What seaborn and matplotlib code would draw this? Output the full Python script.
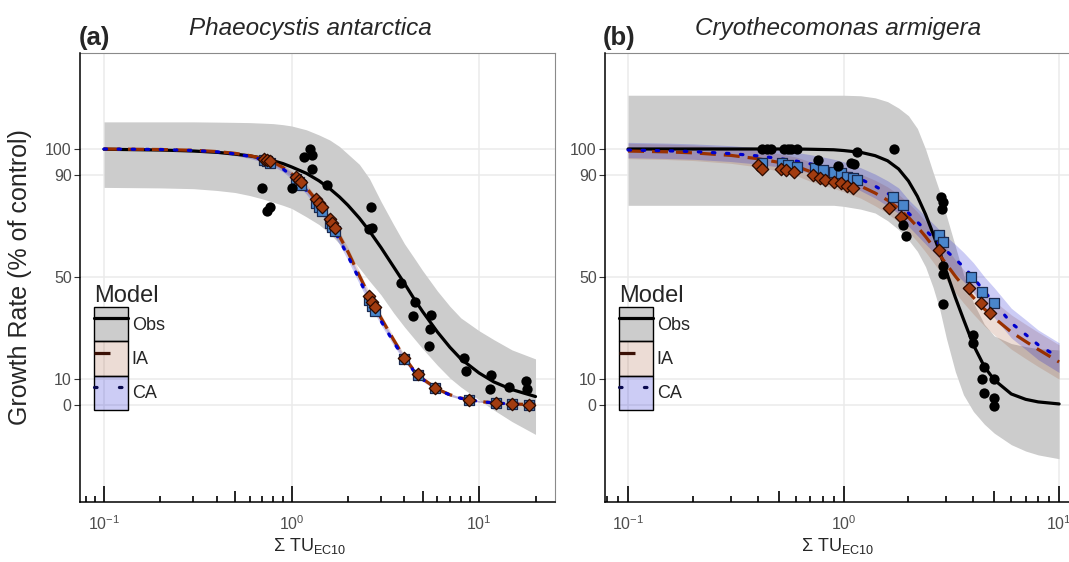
import numpy as np
import pandas as pd
import matplotlib
matplotlib.use("Agg")
import matplotlib.pyplot as plt
import seaborn as sns
from matplotlib.patches import Patch
from matplotlib.lines import Line2D
from matplotlib.colors import to_rgba

# ---------------- data ----------------
# Panel (a) Phaeocystis antarctica
a_curve_x = [0.1, 0.2, 0.3, 0.4, 0.5, 0.6, 0.7, 0.8, 0.9, 1.0, 1.2, 1.4, 1.6, 1.8, 2.0,
             2.3, 2.6, 3.0, 3.5, 4.0, 4.5, 5.0, 6.0, 7.0, 8.0, 10, 12, 15, 20]
a_obs_fit = [99.9, 99.6, 99.2, 98.7, 98.0, 97.3, 96.4, 95.4, 94.3, 93.0, 90.5, 87.6, 84.5, 81.3, 78.0,
             73.0, 68.0, 61.5, 54.0, 47.5, 41.5, 36.5, 28.5, 22.5, 18.0, 12.5, 9.0, 6.0, 3.3]
a_obs_hi = [110.6, 110.6, 110.6, 110.5, 110.4, 110.3, 110.1, 109.9, 109.5, 109.0, 107.5, 105.5, 103.5, 101.0, 98.0,
            94.0, 88.5, 79.5, 70.5, 63.0, 57.5, 52.5, 44.5, 38.5, 34.0, 29.0, 25.5, 21.5, 18.0]
a_obs_lo = [85.0, 84.8, 84.5, 83.8, 83.0, 81.8, 80.5, 79.2, 78.0, 76.8, 73.5, 70.5, 67.0, 63.0, 59.0,
            53.5, 48.5, 43.0, 36.0, 30.5, 26.0, 22.0, 15.5, 10.5, 7.0, 2.0, -2.0, -6.5, -11.5]
a_ia_fit = [100, 99.8, 99.5, 99.0, 98.3, 97.4, 96.3, 94.8, 92.8, 90.3, 84.8, 78.8, 72.5, 66.0, 59.8,
            50.5, 42.5, 34.0, 25.5, 18.5, 13.5, 10.2, 6.2, 4.0, 2.7, 1.4, 0.8, 0.4, 0.1]
a_ia_hw = [0.3, 0.4, 0.5, 0.6, 0.7, 0.8, 0.9, 1.0, 1.1, 1.2, 1.4, 1.5, 1.6, 1.7, 1.7,
           1.7, 1.6, 1.5, 1.3, 1.1, 0.9, 0.8, 0.6, 0.5, 0.4, 0.3, 0.2, 0.2, 0.1]
a_ca_fit = [100, 99.8, 99.4, 98.9, 98.1, 97.1, 95.8, 94.2, 92.2, 89.6, 83.8, 77.5, 71.0, 64.5, 58.2,
            49.0, 41.0, 32.8, 24.6, 18.0, 13.2, 10.0, 6.1, 3.9, 2.6, 1.4, 0.8, 0.4, 0.1]
a_ca_hw = [0.3, 0.4, 0.5, 0.6, 0.7, 0.8, 0.9, 1.0, 1.1, 1.2, 1.4, 1.5, 1.6, 1.7, 1.7,
           1.7, 1.6, 1.5, 1.3, 1.1, 0.9, 0.8, 0.6, 0.5, 0.4, 0.3, 0.2, 0.2, 0.1]

a_obs_pts_x = [0.70, 0.74, 0.77, 1.0, 1.17, 1.25, 1.28, 1.29, 1.55, 2.66, 2.60, 2.70, 3.85,
               4.56, 4.45, 5.56, 5.49, 5.42, 8.3, 8.5, 11.6, 11.5, 14.4, 17.8, 18.0]
a_obs_pts_y = [84.8, 75.8, 77.3, 84.8, 96.9, 100.0, 97.7, 92.2, 86.0, 77.3, 68.8, 69.1, 47.7,
               40.2, 34.8, 35.2, 29.7, 23.0, 18.4, 13.3, 11.7, 6.2, 7.0, 9.4, 6.2]
a_mix_x = [0.71, 0.74, 0.77, 1.05, 1.09, 1.13, 1.35, 1.40, 1.45, 1.60, 1.65, 1.70,
           2.60, 2.70, 2.80, 4.0, 4.7, 5.8, 8.8, 12.3, 15.0, 18.5]
a_ia_pts_y = [96.2, 95.7, 95.2, 89.0, 88.0, 87.0, 80.3, 78.8, 77.2, 72.5, 70.9, 69.3,
              42.5, 40.3, 38.2, 18.5, 12.2, 6.8, 2.0, 0.75, 0.4, 0.15]
a_ca_pts_y = [95.7, 95.2, 94.7, 88.2, 87.2, 86.0, 79.0, 77.5, 75.9, 71.0, 69.4, 67.8,
              41.0, 38.8, 36.8, 18.0, 11.9, 6.7, 1.9, 0.75, 0.4, 0.15]

# Panel (b) Cryothecomonas armigera
b_curve_x = [0.1, 0.15, 0.2, 0.3, 0.4, 0.5, 0.6, 0.7, 0.8, 0.9, 1.0, 1.2, 1.4, 1.6, 1.8,
             2.0, 2.2, 2.4, 2.6, 2.8, 3.0, 3.3, 3.6, 4.0, 4.5, 5.0, 6.0, 7.0, 8.0, 10]
b_obs_fit = [100, 100, 100, 100, 100, 100, 100, 99.9, 99.8, 99.7, 99.4, 98.7, 97.4, 95.4, 92.2,
             87.5, 81.5, 74.5, 67.0, 59.5, 52.0, 42.0, 33.5, 23.5, 15.0, 9.8, 4.3, 2.2, 1.2, 0.4]
b_obs_hi = [121, 121, 121, 121, 121, 121, 121, 121, 121, 121, 121, 120.8, 120.0, 118.5, 116.0,
            113.0, 108.0, 100.0, 91.0, 83.0, 74.0, 62.0, 51.0, 40.0, 31.5, 27.0, 24.0, 22.8, 22.0, 21.5]
b_obs_lo = [78, 78, 78, 78, 78, 78, 78, 78, 78, 78, 77.6, 76.5, 75.0, 72.0, 68.5,
            64.5, 60.0, 54.0, 46.0, 37.0, 26.0, 13.0, 4.0, -2.5, -7.5, -11.0, -15.5, -18.0, -19.5, -21.0]
b_ia_fit = [99.2, 98.9, 98.5, 97.5, 96.2, 94.8, 93.3, 91.2, 89.9, 88.8, 87.7, 85.5, 82.8, 80.0, 76.8,
            73.3, 69.6, 65.8, 62.0, 58.4, 55.0, 50.3, 46.4, 42.0, 37.5, 34.0, 28.5, 24.8, 21.7, 16.8]
b_ia_hw = [3.0, 3.0, 3.0, 3.1, 3.2, 3.4, 3.6, 3.8, 4.0, 4.2, 4.4, 4.7, 5.0, 5.2, 5.4,
           5.6, 5.8, 6.0, 6.1, 6.2, 6.3, 6.4, 6.5, 6.5, 6.6, 6.6, 6.7, 6.7, 6.7, 6.7]
b_ca_fit = [99.6, 99.3, 99.0, 98.2, 97.3, 96.3, 95.3, 94.2, 93.1, 92.0, 90.8, 88.2, 85.5, 82.7, 79.8,
            75.0, 71.5, 68.3, 65.4, 62.6, 60.2, 57.0, 54.0, 49.8, 44.3, 40.0, 32.0, 27.5, 23.5, 18.5]
b_ca_hw = [3.0, 3.0, 3.0, 3.1, 3.2, 3.3, 3.4, 3.6, 3.8, 4.0, 4.2, 4.5, 4.7, 4.9, 5.0,
           5.2, 5.3, 5.4, 5.5, 5.6, 5.6, 5.7, 5.7, 5.8, 5.8, 5.8, 5.8, 5.8, 5.8, 5.8]

b_obs_pts_x = [0.42, 0.44, 0.46, 0.53, 0.55, 0.57, 0.61, 0.76, 0.94, 1.08, 1.12, 1.16, 1.71,
               1.88, 1.94, 2.83, 2.90, 2.85, 2.90, 2.90, 2.90, 4.0, 3.98, 4.5, 4.4, 4.97, 4.5, 4.97, 4.97]
b_obs_pts_y = [100, 100, 100, 100, 100, 100, 100, 95.7, 93.4, 94.5, 94.0, 98.8, 100,
               70.3, 66.0, 81.3, 79.3, 76.6, 54.3, 51.0, 39.3, 27.3, 24.2, 15.0, 10.0, 10.0, 4.7, 2.7, -0.4]
b_ia_pts_x = [0.40, 0.42, 0.51, 0.54, 0.59, 0.72, 0.78, 0.82, 0.90, 0.97, 1.04, 1.11,
              1.62, 1.84, 2.77, 3.80, 4.34, 4.80]
b_ia_pts_y = [93.7, 92.2, 92.0, 91.8, 91.0, 89.8, 88.7, 88.0, 87.0, 86.7, 85.5, 84.8,
              77.0, 73.4, 60.5, 45.7, 40.0, 36.0]
b_ca_pts_x = [0.42, 0.52, 0.55, 0.61, 0.74, 0.80, 0.90, 0.97, 1.04, 1.11, 1.16,
              1.69, 1.88, 2.77, 2.90, 3.90, 4.40, 4.97]
b_ca_pts_y = [94.5, 94.5, 93.7, 93.0, 92.6, 91.8, 91.0, 90.6, 89.0, 88.7, 88.0,
              81.3, 78.0, 66.4, 63.7, 50.0, 44.0, 39.8]

y_ticks = [0, 10, 50, 90, 100]
x_ticks = [0.1, 1, 10]
x_ticklabels = [r"$\mathregular{10^{-1}}$", r"$\mathregular{10^{0}}$", r"$\mathregular{10^{1}}$"]
model_labels = ["Obs", "IA", "CA"]
titles = ["Phaeocystis antarctica", "Cryothecomonas armigera"]
tags = ["(a)", "(b)"]

# ---------------- style ----------------
sns.set_theme(style="white")
plt.rcParams['font.family'] = ['Liberation Sans', 'DejaVu Sans']
plt.rcParams['mathtext.fontset'] = 'custom'
plt.rcParams['mathtext.rm'] = 'Liberation Sans'
plt.rcParams['mathtext.it'] = 'Liberation Sans:italic'
plt.rcParams['mathtext.bf'] = 'Liberation Sans:bold'

OBS_COL = "black"
OBS_FILL = "#CCCCCC"
IA_LINE = "#993000"
IA_FILL = "#A0522D"
IA_PT = "#A23C10"
CA_LINE = "#0000CD"
CA_FILL = "#0000CD"
CA_PT = "#4A86CC"

W, H = 1069, 562
fig = plt.figure(figsize=(W / 100, H / 100), dpi=100)
ax_a = fig.add_axes([80 / W, (H - 502) / H, 475 / W, 449 / H])
ax_b = fig.add_axes([605 / W, (H - 502) / H, 475 / W, 449 / H])


def draw_panel(ax, cx, obs_fit, obs_lo, obs_hi, ia_fit, ia_hw, ca_fit, ca_hw,
               ox, oy, iax, iay, cax, cay, xlim):
    cx = np.asarray(cx, float)
    ia_fit = np.asarray(ia_fit); ia_hw = np.asarray(ia_hw)
    ca_fit = np.asarray(ca_fit); ca_hw = np.asarray(ca_hw)
    ax.fill_between(cx, obs_lo, obs_hi, color=OBS_FILL, lw=0, zorder=1)
    ax.fill_between(cx, ia_fit - ia_hw, ia_fit + ia_hw, color=IA_FILL, alpha=0.2, lw=0, zorder=1.1)
    ax.fill_between(cx, ca_fit - ca_hw, ca_fit + ca_hw, color=CA_FILL, alpha=0.2, lw=0, zorder=1.2)

    sns.lineplot(x=cx, y=obs_fit, ax=ax, color=OBS_COL, lw=2.3, estimator=None,
                 sort=False, legend=False, zorder=2)
    sns.lineplot(x=cx, y=ia_fit, ax=ax, color=IA_LINE, lw=2.3, linestyle=(0, (5, 2.5)),
                 estimator=None, sort=False, legend=False, zorder=2.1)
    sns.lineplot(x=cx, y=ca_fit, ax=ax, color=CA_LINE, lw=2.3, linestyle=(0, (0.8, 3.6)),
                 estimator=None, sort=False, legend=False, zorder=2.2,
                 dash_capstyle='round')

    sns.scatterplot(x=cax, y=cay, ax=ax, marker='s', color=CA_PT, edgecolor='#1A2A50',
                    linewidth=0.9, s=45, legend=False, zorder=3)
    sns.scatterplot(x=iax, y=iay, ax=ax, marker='D', color=IA_PT, edgecolor='#2A0A00',
                    linewidth=0.9, s=40, legend=False, zorder=3.1)
    sns.scatterplot(x=ox, y=oy, ax=ax, marker='o', color='black', edgecolor='black',
                    linewidth=0, s=55, legend=False, zorder=3.2)

    ax.set_xscale('log')
    ax.set_xlim(*xlim)
    ax.set_ylim(-37.9, 137.5)
    ax.set_yticks(y_ticks)
    ax.set_yticklabels([str(v) for v in y_ticks])
    ax.set_xticks(x_ticks)
    ax.set_xticklabels(x_ticklabels)
    ax.xaxis.set_minor_locator(matplotlib.ticker.NullLocator())
    ax.tick_params(axis='x', which='major', length=0, pad=9, labelsize=11.5, labelcolor='#4D4D4D')
    ax.tick_params(axis='y', which='major', length=4, width=0.8, color='#333333', pad=2,
                   labelsize=11.5, labelcolor='#4D4D4D', left=True)
    ax.grid(True, which='major', color='#EBEBEB', lw=1.1)
    ax.set_axisbelow(True)
    ax.set_xlabel("")
    ax.set_ylabel("")
    for s in ['top', 'right']:
        ax.spines[s].set_color('#8A8A8A')
        ax.spines[s].set_linewidth(0.8)
    for s in ['left', 'bottom']:
        ax.spines[s].set_color('black')
        ax.spines[s].set_linewidth(1.1)
        ax.spines[s].set_zorder(5)

    # log tick annotations along the bottom (inside)
    trans = ax.get_xaxis_transform()
    lo, hi = xlim
    for dec in range(-2, 2):
        for m in range(1, 10):
            v = m * 10.0 ** dec
            if lo <= v <= hi:
                ln = 0.036 if m == 1 else (0.024 if m == 5 else 0.013)
                ax.plot([v, v], [0, ln], transform=trans, color='black', lw=1.2,
                        solid_capstyle='butt', zorder=6, clip_on=False)

    # legend
    handles = [
        (Patch(facecolor=OBS_FILL, edgecolor='black', lw=1.0), Line2D([], [], color='black', lw=2.3)),
        (Patch(facecolor=to_rgba(IA_FILL, 0.2), edgecolor='black', lw=1.0),
         Line2D([], [], color='#3A1005', lw=2.3, linestyle=(0, (5, 6)))),
        (Patch(facecolor=to_rgba(CA_FILL, 0.2), edgecolor='black', lw=1.0),
         Line2D([], [], color='#0A0A50', lw=2.3, linestyle=(0, (0.8, 7)), dash_capstyle='round')),
    ]
    leg = ax.legend(handles, model_labels, title="Model", loc='lower left',
                    bbox_to_anchor=(0.03, 0.205), borderpad=0, borderaxespad=0,
                    frameon=False, fontsize=13, title_fontsize=17,
                    handlelength=1.88, handleheight=2.55, labelspacing=0,
                    handletextpad=0.2, alignment='left')
    leg.set_zorder(10)


draw_panel(ax_a, a_curve_x, a_obs_fit, a_obs_lo, a_obs_hi, a_ia_fit, a_ia_hw, a_ca_fit, a_ca_hw,
           a_obs_pts_x, a_obs_pts_y, a_mix_x, a_ia_pts_y, a_mix_x, a_ca_pts_y,
           (10 ** -1.128, 10 ** 1.405))
draw_panel(ax_b, b_curve_x, b_obs_fit, b_obs_lo, b_obs_hi, b_ia_fit, b_ia_hw, b_ca_fit, b_ca_hw,
           b_obs_pts_x, b_obs_pts_y, b_ia_pts_x, b_ia_pts_y, b_ca_pts_x, b_ca_pts_y,
           (10 ** -1.107, 10 ** 1.097))

# titles, tags and axis labels
for tag, title, tx, cx in zip(tags, titles, [79, 603], [310, 838]):
    fig.text(tx / W, 1 - 38 / H, tag, ha='left', va='center', fontsize=18.5, fontweight='bold')
    fig.text(cx / W, 1 - 28 / H, title, ha='center', va='center', fontsize=17.5, style='italic')
for cx in [310, 838]:
    fig.text(cx / W, 1 - 546 / H, r"Σ TU$_{\mathregular{EC10}}$", ha='center', va='center', fontsize=13)
fig.text(20 / W, 1 - 277 / H, "Growth Rate (% of control)", rotation=90,
         ha='center', va='center', fontsize=18)

fig.savefig("out.png", dpi=100)
